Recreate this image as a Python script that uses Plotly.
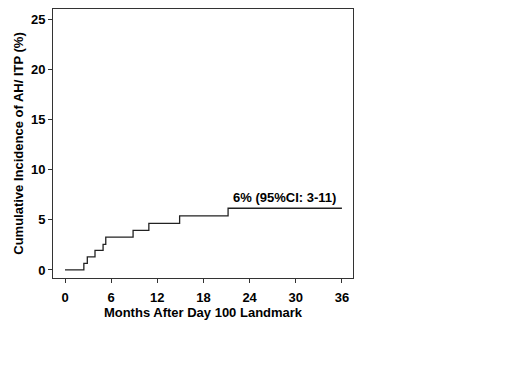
import plotly.graph_objects as go

months = [0, 2.45, 2.9, 3.9, 4.95, 5.3, 8.85, 10.9, 14.9, 21.2, 36]
incidence = [0, 0.66, 1.3, 1.95, 2.55, 3.28, 3.95, 4.65, 5.38, 6.15, 6.15]
x_ticks = [0, 6, 12, 18, 24, 30, 36]
y_ticks = [0, 5, 10, 15, 20, 25]
label_text = "6% (95%CI: 3-11)"
label_x = 28.5
label_y = 7.2

font_family = "Arial, Liberation Sans, sans-serif"

fig = go.Figure()
fig.add_trace(go.Scatter(
    x=months, y=incidence, mode="lines", line_shape="hv",
    line=dict(color="#222222", width=1.3), showlegend=False, hoverinfo="skip",
))
fig.add_annotation(
    x=label_x, y=label_y, text="<b>" + label_text + "</b>", showarrow=False,
    font=dict(family=font_family, size=13, color="black"),
)

axis_common = dict(
    showgrid=False, zeroline=False, showline=True, linecolor="#333333", linewidth=1,
    mirror=True, ticks="outside", ticklen=4, tickcolor="#333333", tickwidth=1,
    tickfont=dict(family=font_family, size=13, color="black"),
)

fig.update_layout(
    width=512, height=382,
    margin=dict(l=45, r=167, t=1, b=112),
    paper_bgcolor="white", plot_bgcolor="white",
    font=dict(family=font_family, color="black"),
    xaxis=dict(
        range=[-1.56, 37.44], tickvals=x_ticks,
        ticktext=["<b>%d</b>" % v for v in x_ticks],
        ticklabelstandoff=3,
        title=dict(text="<b>Months After Day 100 Landmark</b>", standoff=3,
                   font=dict(family=font_family, size=13, color="black")),
        **axis_common,
    ),
    yaxis=dict(
        range=[-0.8, 26.0], tickvals=y_ticks,
        ticktext=["<b>%d</b>" % v for v in y_ticks],
        title=dict(text="<b>Cumulative Incidence of AH/ ITP (%)</b>", standoff=4,
                   font=dict(family=font_family, size=13, color="black")),
        **axis_common,
    ),
)

fig.write_html("out.html")
